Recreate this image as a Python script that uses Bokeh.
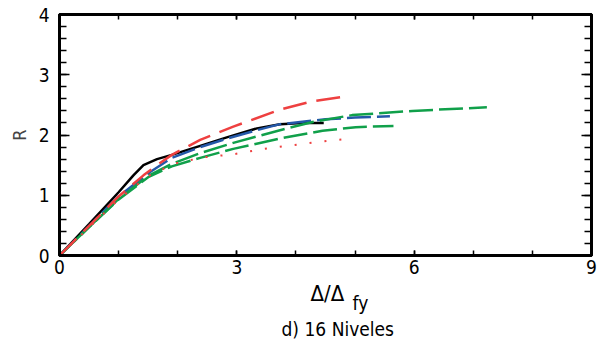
from bokeh.plotting import figure
from bokeh.models import LinearAxis, SingleIntervalTicker, Range1d, Title
from bokeh.embed import file_html
from bokeh.resources import INLINE

FONT = "'DejaVu Sans Condensed', sans-serif"

# Black solid
blk_x = [0, 0.5, 1.0, 1.25, 1.42, 1.65, 1.9, 2.38, 2.83, 3.34, 3.73, 4.1, 4.47]
blk_y = [0, 0.52, 1.05, 1.33, 1.50, 1.60, 1.67, 1.82, 1.96, 2.11, 2.18, 2.20, 2.20]
# Blue dashed
blu_x = [0, 1.0, 1.54, 1.9, 2.38, 2.83, 3.34, 3.73, 4.5, 5.0, 5.59]
blu_y = [0, 0.98, 1.39, 1.62, 1.80, 1.94, 2.08, 2.18, 2.26, 2.29, 2.31]
# Red long dashed
red_x = [0, 1.0, 1.42, 1.65, 1.9, 2.38, 2.94, 3.73, 4.28, 4.84]
red_y = [0, 0.98, 1.33, 1.50, 1.67, 1.92, 2.14, 2.42, 2.56, 2.64]
# Red dotted
rdt_x = [0, 1.0, 1.5, 1.96, 2.44, 2.94, 3.45, 3.93, 4.43, 4.93]
rdt_y = [0, 0.93, 1.32, 1.53, 1.63, 1.68, 1.77, 1.83, 1.89, 1.94]
# Green upper
gu_x = [0, 0.5, 1.0, 1.5, 1.9, 2.38, 2.94, 3.73, 4.3, 4.95, 5.97, 7.23]
gu_y = [0, 0.47, 0.94, 1.32, 1.52, 1.70, 1.87, 2.08, 2.22, 2.33, 2.40, 2.46]
# Green lower
gl_x = [0, 0.5, 1.0, 1.5, 1.9, 2.38, 2.94, 3.72, 4.45, 5.01, 5.65]
gl_y = [0, 0.47, 0.93, 1.30, 1.48, 1.62, 1.77, 1.94, 2.07, 2.13, 2.15]

x_label = "Δ/Δ"
x_sub = "fy"
y_label = "R"
caption = "d) 16 Niveles"

p = figure(width=598, height=347, output_backend="svg", toolbar_location=None,
           x_range=Range1d(0, 9), y_range=Range1d(0, 4),
           min_border_left=59, min_border_right=7, min_border_top=14, min_border_bottom=92)
p.grid.visible = False
p.outline_line_color = "black"
p.outline_line_width = 3
p.background_fill_color = "white"

p.line(blk_x, blk_y, color="black", line_width=2.5)
p.line(blu_x, blu_y, color="#2458A8", line_width=2.5, line_dash="24 6")
p.line(gu_x, gu_y, color="#10A04A", line_width=2.5, line_dash="24 6")
p.line(gl_x, gl_y, color="#10A04A", line_width=2.5, line_dash="24 6", line_dash_offset=10)
p.line(rdt_x, rdt_y, color="#EE4040", line_width=2, line_dash="2 13")
p.line(red_x, red_y, color="#EE4040", line_width=2.5, line_dash="24 10")

def style_x(ax, labels=True):
    ax.ticker = SingleIntervalTicker(interval=3, num_minor_ticks=3)
    ax.major_tick_in = 5
    ax.major_tick_out = 0
    ax.minor_tick_in = 5
    ax.minor_tick_out = 0
    ax.axis_line_width = 3
    ax.major_tick_line_width = 1.5
    ax.minor_tick_line_width = 1.5
    if labels:
        ax.major_label_text_font = FONT
        ax.major_label_text_font_size = "19px"
        ax.major_label_text_color = "black"
        ax.major_label_standoff = 4
    else:
        ax.major_label_text_font_size = "1px"
        ax.major_label_text_color = None
        ax.major_label_standoff = 0

def style_y(ax, labels=True):
    ax.ticker = SingleIntervalTicker(interval=1, num_minor_ticks=5)
    ax.major_tick_in = 10
    ax.major_tick_out = 0
    ax.minor_tick_in = 7
    ax.minor_tick_out = 0
    ax.axis_line_width = 3
    ax.major_tick_line_width = 1.5
    ax.minor_tick_line_width = 1.5
    if labels:
        ax.major_label_text_font = FONT
        ax.major_label_text_font_size = "19px"
        ax.major_label_text_color = "black"
        ax.major_label_standoff = 10
    else:
        ax.major_label_text_font_size = "1px"
        ax.major_label_text_color = None
        ax.major_label_standoff = 0

style_x(p.xaxis[0])
style_y(p.yaxis[0])
p.yaxis[0].axis_label = y_label
p.yaxis[0].axis_label_text_font = FONT
p.yaxis[0].axis_label_text_font_size = "18px"
p.yaxis[0].axis_label_text_font_style = "normal"
p.yaxis[0].axis_label_standoff = 6

top = LinearAxis()
style_x(top, labels=False)
p.add_layout(top, "above")
right = LinearAxis()
style_y(right, labels=False)
p.add_layout(right, "right")

t_main = Title(text=x_label, align="left", offset=251, vertical_align="top", standoff=8,
               text_font=FONT, text_font_size="22px", text_font_style="normal",
               text_color="black")
t_cap = Title(text=caption, align="left", offset=222, vertical_align="top", standoff=12,
              text_font=FONT, text_font_size="19px", text_font_style="normal",
              text_color="black")
t_sub = Title(text=x_sub, align="left", offset=293, vertical_align="top", standoff=-112,
              text_font=FONT, text_font_size="19px", text_font_style="normal",
              text_color="black")
p.add_layout(t_main, "below")
p.add_layout(t_cap, "below")
p.add_layout(t_sub, "below")

open("out.html", "w").write(file_html(p, INLINE))
